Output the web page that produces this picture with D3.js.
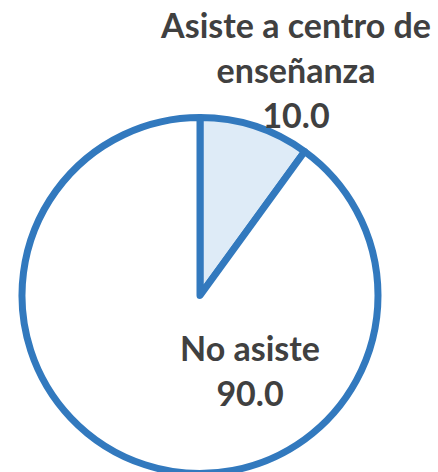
<!DOCTYPE html>
<html lang="es">

<head>
	<meta charset="UTF-8">
	<title>Asistencia</title>
	<script src="https://d3js.org/d3.v7.min.js"></script>
	<style>
		body {
			margin: 0;
			background: #fff;
		}

		.slice {
			stroke: #3279be;
			stroke-width: 7px;
			stroke-linejoin: round;
		}

		.label text {
			font-family: Lato, "Open Sans", sans-serif;
			font-weight: bold;
			font-size: 34px;
			fill: #404040;
			text-anchor: middle;
		}
	</style>
</head>

<body>
	<script>
		const width = 438;
		const height = 472;

		// data
		const categories = ["Asiste a centro de enseñanza", "No asiste"];
		const values = [10.0, 90.0];
		const labelLines = [["Asiste a centro de", "enseñanza"], ["No asiste"]];
		const fills = ["#deebf7", "#ffffff"];

		const cx = 200, cy = 295.5, radius = 178;

		const svg = d3.select("body").append("svg")
			.attr("width", width)
			.attr("height", height);

		const pie = d3.pie().sort(null).value(d => d.value);
		const arcs = pie(categories.map((c, i) => ({ name: c, value: values[i], lines: labelLines[i], fill: fills[i] })));

		const arc = d3.arc().innerRadius(0).outerRadius(radius);

		const g = svg.append("g")
			.attr("transform", `translate(${cx},${cy})`);

		g.selectAll("path")
			.data(arcs)
			.enter().append("path")
			.attr("class", "slice")
			.attr("d", arc)
			.attr("fill", d => d.data.fill);

		// label anchors (center of first line baseline), relative to pie center
		const labelPos = [[96, -258], [50, 65]];
		const lineH = 45;

		const label = g.selectAll("g.label")
			.data(arcs)
			.enter().append("g")
			.attr("class", "label")
			.attr("transform", (d, i) => `translate(${labelPos[i][0]},${labelPos[i][1]})`);

		label.each(function (d) {
			const t = d3.select(this).append("text");
			const lines = d.data.lines.concat([d3.format(".1f")(d.data.value)]);
			lines.forEach((s, j) => {
				t.append("tspan").attr("x", 0).attr("y", j * lineH).text(s);
			});
		});
	</script>
</body>

</html>
